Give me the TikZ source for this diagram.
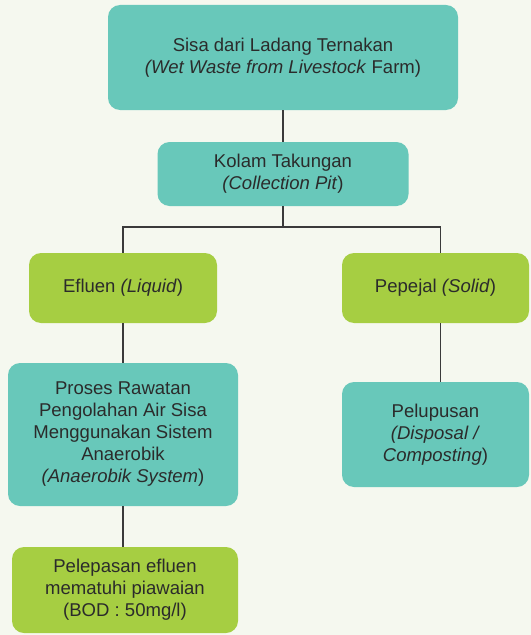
\documentclass[tikz,border=0pt]{standalone}
\usepackage{fontspec}
\setmainfont{Liberation Sans}
\usepackage{tikz}
\usetikzlibrary{positioning}
\definecolor{paper}{HTML}{F5F8EF}
\definecolor{teal}{HTML}{68C8BA}
\definecolor{lime}{HTML}{A6CE42}
\definecolor{ink}{HTML}{2B2B2B}
\definecolor{wire}{HTML}{3A3A3A}
\tikzset{
  box/.style={rounded corners=9pt,align=center,text=ink,inner sep=2pt,
    font=\fontsize{13.9}{16.5}\selectfont},
  tealbox/.style={box,fill=teal},
  limebox/.style={box,fill=lime},
  link/.style={draw=wire,line width=0.8pt},
}

\begin{document}
\begin{tikzpicture}[x=0.75pt,y=-0.75pt]
  \fill[paper] (0,0) rectangle (531,635);
  \useasboundingbox (0,0) rectangle (531,635);
  % level 1: source
  \node[tealbox,minimum width=262.5pt,minimum height=78.75pt] (farm) at (283,57.5)
    {Sisa dari Ladang Ternakan\\ \textit{(Wet Waste from Livestock} Farm)};
  % level 2: pit
  \node[tealbox,minimum width=188.25pt,minimum height=48pt] (pit) at (283,174)
    {Kolam Takungan\\ \textit{(Collection Pit})};
  % level 3: split
  \node[limebox,minimum width=141pt,minimum height=52.5pt] (liquid) at (123,288)
    {Efluen \textit{(Liquid})};
  \node[limebox,minimum width=140.25pt,minimum height=52.5pt] (solid) at (435.5,288)
    {Pepejal \textit{(Solid})};
  % level 4: treatment
  \node[tealbox,minimum width=172.5pt,minimum height=107.25pt] (treat) at (123,434.5)
    {Proses Rawatan\\ Pengolahan Air Sisa\\ Menggunakan Sistem\\ Anaerobik\\ \textit{(Anaerobik System})};
  \node[tealbox,minimum width=140.25pt,minimum height=78.75pt] (dispose) at (435.5,434.5)
    {Pelupusan\\ \textit{(Disposal /}\\ \textit{Composting})};
  % level 5: discharge
  \node[limebox,minimum width=169.5pt,minimum height=64.5pt] (release) at (125,590)
    {Pelepasan efluen\\ mematuhi piawaian\\ (BOD : 50mg/l)};
  % connectors
  \coordinate (split) at (283,227);
  \draw[link] (farm.south) -- (pit.north);
  \draw[link] (pit.south) -- (split);
  \draw[link] (liquid.north) |- (split) -| ([xshift=4pt]solid.north);
  \draw[link] (liquid.south) -- (treat.north);
  \draw[link] ([xshift=4pt]solid.south) -- ([xshift=4pt]dispose.north);
  \draw[link] (treat.south) -- (treat.south |- release.north);
\end{tikzpicture}
\end{document}
